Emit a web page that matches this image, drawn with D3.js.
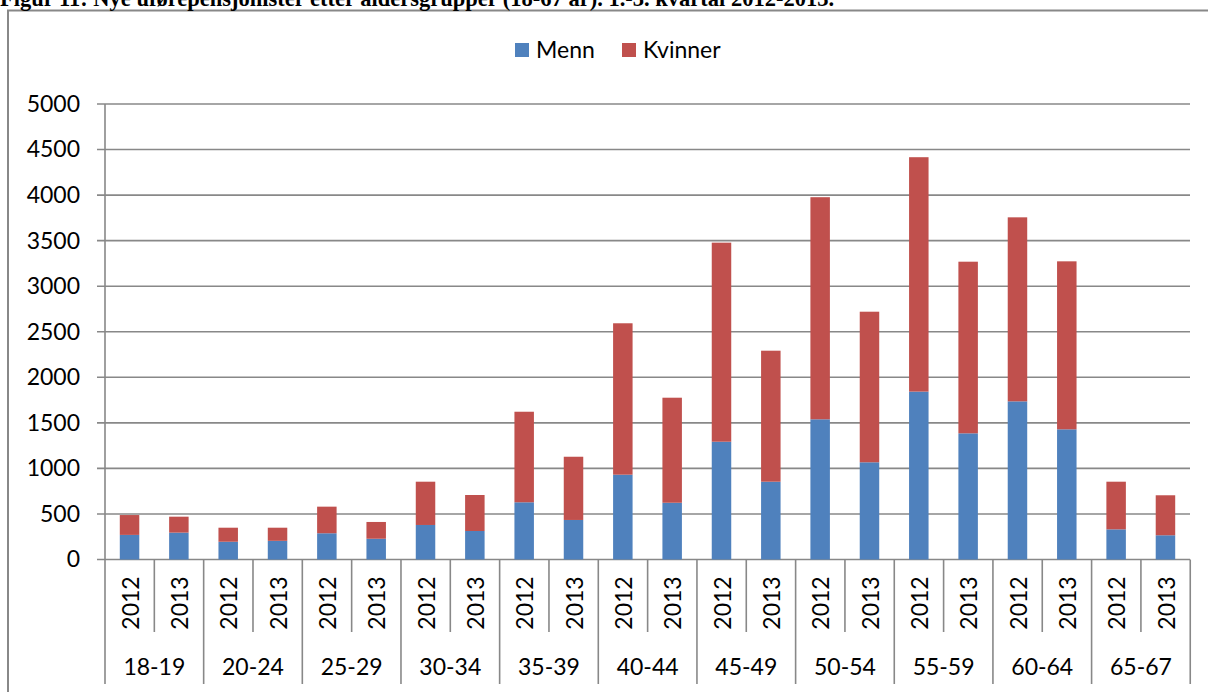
<!DOCTYPE html>
<html>
<head>
<meta charset="utf-8">
<script src="https://cdn.jsdelivr.net/npm/d3@7"></script>
<style>
  body { margin: 0; background: #fff; }
  svg { display: block; }
  .lbl { font-family: Lato, "Open Sans", sans-serif; font-size: 23px; fill: #000; }
</style>
</head>
<body>
<script>
// age groups, years and values
var groups = ["18-19", "20-24", "25-29", "30-34", "35-39", "40-44", "45-49", "50-54", "55-59", "60-64", "65-67"];
var years = ["2012", "2013"];
var menn = [270, 295, 195, 205, 288, 228, 379, 313, 628, 434, 931, 623, 1293, 854, 1539, 1067, 1843, 1385, 1736, 1429, 331, 266];
var kvinner = [218, 175, 154, 144, 292, 184, 475, 395, 994, 694, 1662, 1153, 2185, 1438, 2438, 1653, 2573, 1884, 2020, 1844, 523, 439];
var yTicks = [0, 500, 1000, 1500, 2000, 2500, 3000, 3500, 4000, 4500, 5000];
var seriesNames = ["Menn", "Kvinner"];
var colors = ["#4f81bd", "#c0504d"];

var W = 1208, H = 692;
var plotL = 105, plotR = 1190, plotT = 104, zeroY = 559.5;

var rows = [];
groups.forEach(function (g, gi) {
  years.forEach(function (yr, yi) {
    var i = gi * 2 + yi;
    rows.push({ key: g + "_" + yr, group: g, year: yr, Menn: menn[i], Kvinner: kvinner[i] });
  });
});

var svg = d3.select("body").append("svg")
  .attr("width", W)
  .attr("height", H);

// outer frame
svg.append("rect")
  .attr("x", 8).attr("y", 10.5)
  .attr("width", 1210).attr("height", 700)
  .attr("fill", "none")
  .attr("stroke", "#888")
  .attr("stroke-width", 2);

// title, cut off at the top like the original
svg.append("text")
  .attr("x", 0).attr("y", 6)
  .style("font-family", "'Liberation Serif', 'Times New Roman', serif")
  .style("font-weight", "bold")
  .style("font-size", "22.5px")
  .text("Figur 11: Nye uførepensjonister etter aldersgrupper (18-67 år). 1.-3. kvartal 2012-2013.");

var x = d3.scaleBand()
  .domain(rows.map(function (d) { return d.key; }))
  .range([plotL, plotR])
  .paddingInner(0.605)
  .paddingOuter(0.3);

var y = d3.scaleLinear()
  .domain([0, 5000])
  .range([zeroY, plotT]);

// gridlines
svg.append("g").selectAll("line")
  .data(yTicks)
  .enter().append("line")
  .attr("x1", plotL - 8).attr("x2", plotR)
  .attr("y1", function (d) { return y(d); })
  .attr("y2", function (d) { return y(d); })
  .attr("stroke", "#888")
  .attr("stroke-width", 1.6);

// y axis labels
var yAxis = d3.axisLeft(y)
  .tickValues(yTicks)
  .tickFormat(d3.format("d"))
  .tickSize(0)
  .tickPadding(25);

var ya = svg.append("g")
  .attr("transform", "translate(" + plotL + ",0)")
  .call(yAxis);
ya.select(".domain").remove();
ya.selectAll("text").attr("class", "lbl").attr("font-size", null).attr("font-family", null);
ya.attr("font-size", null).attr("font-family", null);

// stacked bars
var stack = d3.stack().keys(seriesNames);
var layers = stack(rows);

svg.append("g").selectAll("g")
  .data(layers)
  .enter().append("g")
  .attr("fill", function (d, i) { return colors[i]; })
  .selectAll("rect")
  .data(function (d) { return d; })
  .enter().append("rect")
  .attr("x", function (d) { return x(d.data.key); })
  .attr("width", x.bandwidth())
  .attr("y", function (d) { return y(d[1]); })
  .attr("height", function (d) { return y(d[0]) - y(d[1]); });

// category axis: separators and labels
var step = x.step();
var sep = svg.append("g").attr("stroke", "#888").attr("stroke-width", 1.6);
sep.append("line")
  .attr("x1", plotL).attr("x2", plotL)
  .attr("y1", plotT).attr("y2", 684);
d3.range(1, rows.length + 1).forEach(function (i) {
  var xx = plotL + i * step;
  sep.append("line")
    .attr("x1", xx).attr("x2", xx)
    .attr("y1", zeroY).attr("y2", i % 2 === 0 ? 684 : 632);
});

svg.append("g").selectAll("text")
  .data(rows)
  .enter().append("text")
  .attr("class", "lbl")
  .attr("text-anchor", "middle")
  .attr("dy", "0.36em")
  .attr("transform", function (d) {
    return "translate(" + (x(d.key) + x.bandwidth() / 2 + 1) + ",603) rotate(-90)";
  })
  .text(function (d) { return d.year; });

svg.append("g").selectAll("text")
  .data(groups)
  .enter().append("text")
  .attr("class", "lbl")
  .attr("text-anchor", "middle")
  .attr("x", function (d, i) { return plotL + (i * 2 + 1) * step; })
  .attr("y", 675)
  .text(function (d) { return d; });

// legend
var legend = svg.append("g");
var legX = [515, 622];
seriesNames.forEach(function (name, i) {
  legend.append("rect")
    .attr("x", legX[i]).attr("y", 43)
    .attr("width", 14).attr("height", 14)
    .attr("fill", colors[i]);
  legend.append("text")
    .attr("class", "lbl")
    .attr("x", legX[i] + 21).attr("y", 58)
    .text(name);
});
</script>
</body>
</html>
